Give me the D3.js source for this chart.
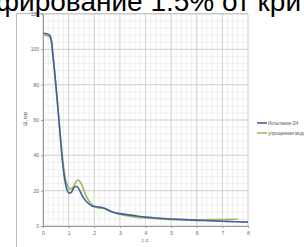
<!DOCTYPE html>
<html><head><meta charset="utf-8">
<script src="https://cdn.jsdelivr.net/npm/d3@7"></script>
<style>body{margin:0;background:#fff;overflow:hidden}svg{display:block}</style>
</head><body>
<script>
const title = "фирование 1.5% от кри";
const xLabel = "t, с";
const yLabel = "Ш, мм";
const seriesNames = ["Испытание D4", "упрощенная модель"];
const xTicks = [0,1,2,3,4,5,6,7,8];
const yTicks = [0,20,40,60,80,100,120];
const tBlue = [0,0.1,0.2,0.28,0.33,0.38,0.45,0.55,0.65,0.75,0.85,0.95,1.02,1.1,1.2,1.3,1.4,1.5,1.6,1.75,1.9,2.0,2.2,2.4,2.6,2.8,3.0,3.5,4,4.5,5,5.5,6,6.5,7,7.5,8];
const vBlue = [109,109,108.5,107.5,105,98,88,72,55,38,26,20,18.5,19,21.5,22.5,21,18,15.5,13,11.5,11,10.8,10,8.5,7.5,7,6,5,4.5,4,3.6,3.2,3,2.7,2.4,2.2];
const tGreen = [0,0.1,0.2,0.28,0.33,0.38,0.45,0.55,0.65,0.75,0.85,0.95,1.05,1.15,1.25,1.35,1.45,1.55,1.65,1.8,1.95,2.1,2.3,2.5,2.7,2.9,3.1,3.5,4,4.5,5,5.5,6,6.5,7,7.6];
const vGreen = [108,108,107.5,106.5,103.5,97,87,72,56,40,29,23,21,21.5,24,26,25,22,18,14,11.5,10.5,10,9.5,8,7,6.3,5.3,4.5,4,3.6,3.5,3.5,3.6,3.7,3.8];

const W=304,H=247;
const svg=d3.select("body").append("svg").attr("width",W).attr("height",H);
const m={l:43,r:248,t:14,b:226};
const x=d3.scaleLinear().domain([0,8]).range([m.l,m.r]);
const y=d3.scaleLinear().domain([0,120]).range([m.b,m.t]);

// frame
svg.append("path").attr("d",`M16.5,${H} V13.5 H248`).attr("fill","none").attr("stroke","#bbb").attr("stroke-width",1);

// minor grid
const g=svg.append("g");
d3.range(0,8.001,0.2).forEach(v=>g.append("line").attr("x1",x(v)).attr("x2",x(v)).attr("y1",m.t).attr("y2",m.b).attr("stroke","#e6e6e6").attr("stroke-width",0.6));
d3.range(0,120.001,4).forEach(v=>g.append("line").attr("y1",y(v)).attr("y2",y(v)).attr("x1",m.l).attr("x2",m.r).attr("stroke","#e6e6e6").attr("stroke-width",0.6));
// major grid
xTicks.forEach(v=>g.append("line").attr("x1",x(v)).attr("x2",x(v)).attr("y1",m.t).attr("y2",m.b).attr("stroke","#cccccc").attr("stroke-width",0.8));
yTicks.forEach(v=>g.append("line").attr("y1",y(v)).attr("y2",y(v)).attr("x1",m.l).attr("x2",m.r).attr("stroke","#cccccc").attr("stroke-width",0.8));

// axes
const xa=svg.append("g").attr("transform",`translate(0,${m.b})`).call(d3.axisBottom(x).tickValues(xTicks).tickSize(2).tickPadding(3).tickFormat(d3.format("d")));
const ya=svg.append("g").attr("transform",`translate(${m.l},0)`).call(d3.axisLeft(y).tickValues(yTicks).tickSize(2).tickPadding(2).tickFormat(d3.format("d")));
[xa,ya].forEach(a=>{a.selectAll("path,line").attr("stroke","#999");a.selectAll("text").attr("font-family","Liberation Sans, Arial").attr("font-size",5).attr("fill","#666");});

// lines
const line=d3.line().x(d=>x(d[0])).y(d=>y(d[1])).curve(d3.curveMonotoneX);
svg.append("path").datum(tGreen.map((t,i)=>[t,vGreen[i]])).attr("d",line).attr("fill","none").attr("stroke","#9bbb59").attr("stroke-width",1.6);
svg.append("path").datum(tBlue.map((t,i)=>[t,vBlue[i]])).attr("d",line).attr("fill","none").attr("stroke","#3f5f9f").attr("stroke-width",1.6);

// labels
svg.append("text").attr("x",145).attr("y",242).attr("text-anchor","middle").attr("font-family","Liberation Sans, Arial").attr("font-size",5).attr("fill","#555").text(xLabel);
svg.append("text").attr("transform","translate(27,119) rotate(-90)").attr("text-anchor","middle").attr("font-family","Liberation Sans, Arial").attr("font-size",5).attr("fill","#555").text(yLabel);

// legend
const colors=["#3f5f9f","#9bbb59"];
seriesNames.forEach((n,i)=>{
  const ly=123+i*10;
  svg.append("line").attr("x1",257).attr("x2",267).attr("y1",ly).attr("y2",ly).attr("stroke",colors[i]).attr("stroke-width",1.6);
  svg.append("text").attr("x",268).attr("y",ly+1.7).attr("font-family","Liberation Sans, Arial").attr("font-size",4.5).attr("fill","#555").text(n);
});

// title
svg.append("text").attr("x",-4).attr("y",11).attr("font-family","Liberation Sans, Arial").attr("font-size",28).attr("fill","#000").text(title);
</script>
</body></html>
